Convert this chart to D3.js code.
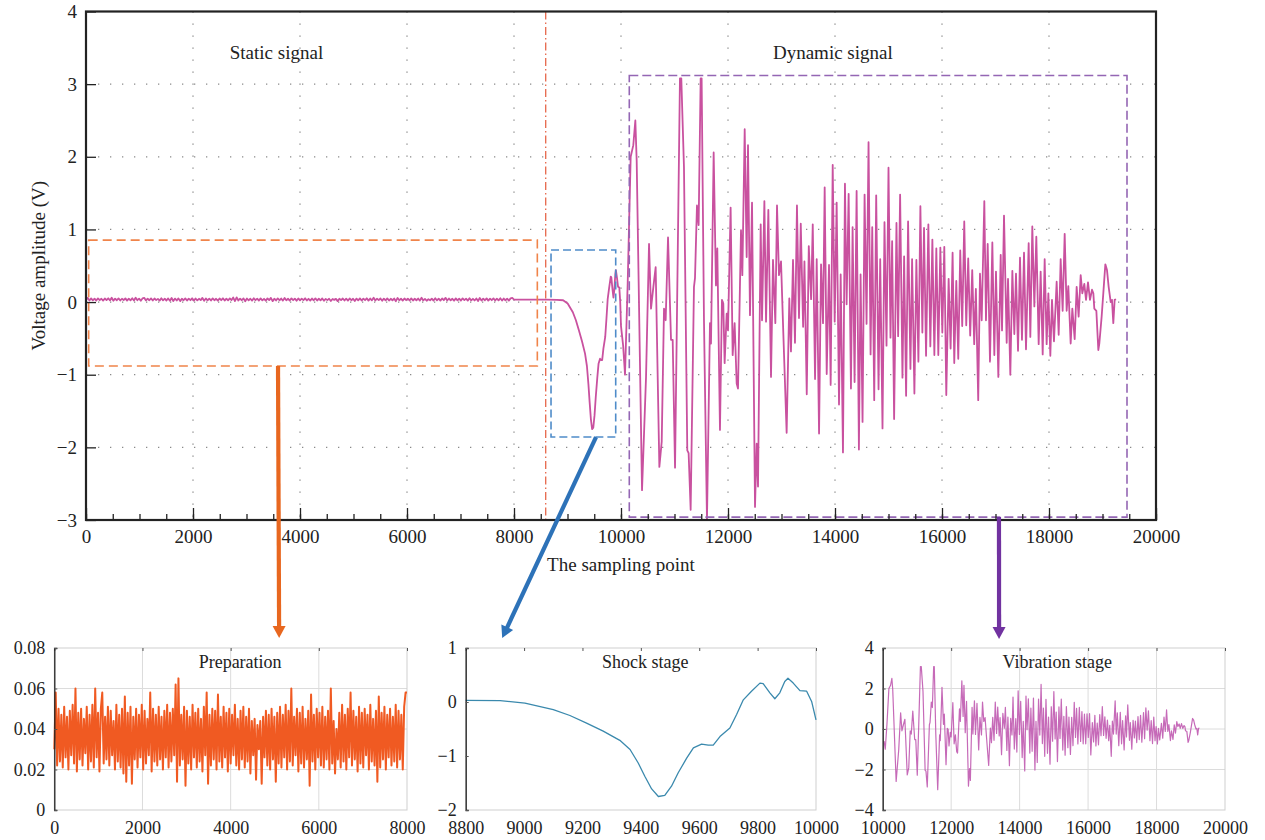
<!DOCTYPE html>
<html>
<head>
<meta charset="utf-8">
<script src="https://cdn.jsdelivr.net/npm/d3@7"></script>
<style>
  body { margin: 0; background: #fff; }
  svg { display: block; }
  text { font-family: "Liberation Serif", "DejaVu Serif", serif; fill: #222; }
</style>
</head>
<body>
<svg id="chart" width="1265" height="840"></svg>
<script>
// ── Data ───────────────────────────────────────────────────────────────────

// Static (preparation) stage, one value every prepStep sampling points, volts
const prepStep = 32;
const prepVolts = [
  0.030,0.058,0.022,0.050,0.024,0.047,0.021,0.051,0.026,0.046,
  0.020,0.049,0.027,0.052,0.023,0.060,0.019,0.048,0.025,0.050,
  0.022,0.045,0.028,0.051,0.020,0.047,0.024,0.052,0.021,0.060,
  0.026,0.048,0.019,0.050,0.058,0.023,0.046,0.025,0.051,0.022,
  0.049,0.027,0.044,0.020,0.052,0.024,0.047,0.021,0.050,0.018,
  0.056,0.014,0.048,0.022,0.051,0.013,0.046,0.025,0.050,0.021,
  0.047,0.026,0.052,0.020,0.049,0.023,0.045,0.027,0.058,0.019,
  0.050,0.024,0.047,0.022,0.051,0.025,0.046,0.020,0.049,0.026,
  0.052,0.021,0.048,0.024,0.050,0.027,0.062,0.014,0.065,0.022,
  0.047,0.025,0.051,0.012,0.049,0.023,0.046,0.020,0.052,0.026,
  0.048,0.021,0.050,0.024,0.045,0.019,0.051,0.027,0.058,0.013,
  0.047,0.022,0.050,0.025,0.049,0.020,0.057,0.024,0.046,0.021,
  0.051,0.026,0.048,0.019,0.050,0.023,0.047,0.027,0.052,0.022,
  0.045,0.020,0.049,0.025,0.051,0.021,0.046,0.024,0.050,0.018,
  0.044,0.027,0.045,0.015,0.042,0.030,0.044,0.013,0.046,0.026,
  0.049,0.022,0.047,0.020,0.050,0.025,0.046,0.014,0.048,0.023,
  0.051,0.021,0.047,0.026,0.052,0.020,0.049,0.024,0.060,0.022,
  0.046,0.027,0.050,0.019,0.048,0.023,0.051,0.021,0.045,0.025,
  0.049,0.012,0.057,0.024,0.047,0.020,0.050,0.026,0.048,0.022,
  0.051,0.021,0.046,0.025,0.049,0.020,0.060,0.023,0.044,0.018,
  0.040,0.025,0.048,0.021,0.052,0.024,0.047,0.020,0.050,0.026,
  0.058,0.022,0.049,0.025,0.046,0.019,0.051,0.023,0.048,0.021,
  0.050,0.027,0.047,0.020,0.052,0.024,0.045,0.022,0.049,0.014,
  0.056,0.021,0.048,0.025,0.051,0.020,0.047,0.026,0.050,0.022,
  0.046,0.024,0.052,0.021,0.049,0.025,0.047,0.020,0.051,0.058
];

// Flat stretch between the preparation window and the shock
const preShock = [[8000,0.035],[8300,0.034],[8600,0.034]];

// Shock stage [sampling point, V]
const shockPts = [
  [8800,0.03],[8918,0.025],[9003,-0.02],[9100,-0.14],[9157,-0.25],[9214,-0.39],
  [9271,-0.54],[9328,-0.71],[9363,-0.88],[9391,-1.13],[9414,-1.38],[9437,-1.61],
  [9460,-1.75],[9482,-1.73],[9505,-1.56],[9528,-1.31],[9557,-1.04],[9580,-0.85],
  [9608,-0.78],[9631,-0.80],[9648,-0.80],[9671,-0.64],[9705,-0.48],[9728,-0.23],
  [9751,0.04],[9779,0.20],[9808,0.35],[9819,0.34],[9842,0.17],[9859,0.06],
  [9876,0.17],[9893,0.38],[9904,0.44],[9922,0.35],[9945,0.21],[9968,0.20],
  [9985,0.01],[10000,-0.33]
];

// Vibration stage [sampling point, V]
const vibPts = [
  [10040,-0.6],[10075,-1.0],[10125,0.26],[10181,2.0],[10230,2.16],[10268,2.5],[10293,1.95],
  [10393,-2.59],[10468,-1.03],[10524,0.8],[10561,-0.09],[10605,0.21],[10648,0.48],[10717,-2.27],
  [10761,-1.92],[10804,-0.09],[10835,-0.25],[10879,0.89],[10935,-0.52],[10966,-0.52],[11010,-2.28],
  [11102,3.08],[11127,3.08],[11177,1.86],[11239,-2.04],[11264,-2.08],[11302,-2.86],[11364,0.21],
  [11383,0.33],[11420,1.33],[11451,1.06],[11489,3.08],[11507,3.08],[11551,-0.25],[11607,-3.0],
  [11663,-0.29],[11682,-0.57],[11732,2.06],[11775,0.23],[11800,0.74],[11850,-1.76],[11887,0.03],
  [11912,-0.02],[11937,-0.84],[11975,-0.16],[12000,-0.39],[12049,1.3],[12087,-0.73],[12124,-0.29],
  [12162,-1.12],[12187,-1.19],[12243,0.99],[12268,0.37],[12312,2.38],[12349,0.62],[12374,2.16],
  [12411,-0.18],[12449,1.37],[12505,-2.82],[12536,-1.95],[12561,-2.54],[12611,1.07],[12636,-0.25],
  [12680,1.39],[12711,-0.27],[12754,1.27],[12804,-1.03],[12841,0.58],[12885,-0.29],[12916,1.33],
  [12953,0.37],[12991,0.56],[13034,-0.43],[13096,-1.80],[13146,0.05],[13177,-0.68],[13215,0.58],
  [13252,-0.56],[13289,1.33],[13327,-0.22],
  [13360,1.08],[13404,-0.34],[13429,0.56],[13472,-1.27],[13510,0.77],[13553,0.04],[13584,1.07],
  [13627,-1.06],[13658,0.59],[13702,-1.81],[13739,0.52],[13776,-0.29],[13807,1.58],[13845,-0.99],
  [13888,0.51],[13919,-1.14],[13957,1.89],[13994,-0.27],[14031,1.37],[14075,-1.41],[14106,0.38],
  [14149,-2.07],[14186,1.63],[14217,-0.03],[14255,1.49],[14298,-1.19],[14329,1.03],[14366,-1.10],
  [14404,1.53],[14447,-2.03],[14478,0.38],[14515,-1.65],[14553,1.48],[14590,-0.30],[14627,2.20],
  [14665,-0.72],[14696,1.03],[14733,-1.35],[14770,1.47],[14814,-1.20],[14845,0.59],[14888,-1.74],
  [14925,1.10],[14963,-0.60],[15000,1.85],[15037,-0.49],[15068,0.84],[15105,-1.61],[15149,1.09],
  [15180,-0.47],[15217,1.48],[15261,-1.04],[15292,0.63],[15329,-1.29],[15366,1.11],[15410,-0.92],
  [15441,0.59],[15484,-1.26],[15521,0.58],[15559,-0.82],[15596,1.32],[15633,-0.42],[15664,1.02],
  [15702,-0.74],[15745,1.07],[15782,-0.61],[15820,0.86],[15857,-0.73],[15894,0.74],[15931,-0.73],
  [15969,0.75],[16006,-0.42],[16043,0.76],[16080,-1.28],[16124,0.32],[16161,-0.64],[16198,0.68],
  [16229,-0.84],[16267,0.29],[16304,-0.78],[16341,0.71],[16378,-0.33],[16416,1.11],[16453,-0.32],
  [16490,0.60],[16527,-0.46],[16565,0.44],[16602,-0.58],[16633,0.18],[16677,-1.35],
  [16710,0.39],[16742,-0.25],[16791,1.39],[16822,-0.25],[16854,0.80],[16897,-0.82],[16941,0.82],
  [16978,-0.73],[17009,0.42],[17053,-1.03],[17097,0.65],[17122,-0.39],[17159,1.19],[17209,-0.56],
  [17234,0.32],[17277,-1.0],[17315,0.43],[17352,-0.44],[17383,0.39],[17421,-0.67],[17458,0.61],
  [17495,-0.52],[17533,0.68],[17570,-0.65],[17620,0.81],[17651,-0.48],[17688,1.04],[17726,-0.06],
  [17763,0.90],[17807,-0.58],[17844,0.42],[17882,-0.72],[17919,0.59],[17956,-0.58],[17988,0.12],
  [18025,-0.74],[18056,0.03],[18093,-0.54],[18143,0.28],[18181,-0.45],[18218,0.59],[18255,-0.12],
  [18293,0.94],[18330,-0.12],[18361,0.22],[18405,-0.57],[18436,-0.09],[18480,-0.51],[18517,0.21],
  [18554,-0.20],[18592,0.37],[18623,0.12],[18660,0.25],[18692,0.03],[18729,0.27],[18766,0.03],
  [18804,0.17],[18829,0.12],[18847,-0.09],[18885,-0.12],[18922,-0.66],[18941,-0.57],[18984,-0.20],
  [19015,0.12],[19053,0.52],[19084,0.44],[19115,0.21],[19153,0.0],[19177,0.03],[19202,-0.29],
  [19227,0.03],[19252,0.04]
];

// Axis ticks
const mainXTicks = [0,2000,4000,6000,8000,10000,12000,14000,16000,18000,20000];
const mainYTicks = [-3,-2,-1,0,1,2,3,4];
const prepXTicks = [0,2000,4000,6000,8000];
const prepYTicks = [0,0.02,0.04,0.06,0.08];
const shockXTicks = [8800,9000,9200,9400,9600,9800,10000];
const shockYTicks = [-2,-1,0,1];
const vibXTicks = [10000,12000,14000,16000,18000,20000];
const vibYTicks = [-4,-2,0,2,4];

// Highlight windows on the main chart [x0, x1, y0, y1]
const prepWindow = [50, 8436, -0.88, 0.853];
const shockWindow = [8692, 9901, -1.858, 0.716];
const vibWindow = [10155, 19458, -2.96, 3.12];
const splitAt = 8593;

// ── Main chart ─────────────────────────────────────────────────────────────
const svg = d3.select('#chart');
const M = { left: 86, right: 1156, top: 11.5, bottom: 520 };
const x = d3.scaleLinear().domain([0, 20000]).range([M.left, M.right]);
const y = d3.scaleLinear().domain([-3, 4]).range([M.bottom, M.top]);

const staticPts = prepVolts.map((v, i) => [i * prepStep, v]);
const fullSignal = staticPts.concat(preShock, shockPts, vibPts);

const main = svg.append('g');

// dotted grid
main.append('g').selectAll('line').data(mainXTicks.slice(1, -1)).join('line')
  .attr('x1', d => x(d)).attr('x2', d => x(d)).attr('y1', M.top).attr('y2', M.bottom)
  .attr('stroke', '#8a8a8a').attr('stroke-width', 1.3).attr('stroke-dasharray', '1.3 10.7');
main.append('g').selectAll('line').data(mainYTicks.slice(1, -1)).join('line')
  .attr('x1', M.left).attr('x2', M.right).attr('y1', d => y(d)).attr('y2', d => y(d))
  .attr('stroke', '#8a8a8a').attr('stroke-width', 1.3).attr('stroke-dasharray', '1.3 10.7');

// signal
const line = d3.line().x(d => x(d[0])).y(d => y(d[1]));
main.append('path').datum(fullSignal).attr('d', line)
  .attr('fill', 'none').attr('stroke', '#c9519f').attr('stroke-width', 1.8)
  .attr('stroke-linejoin', 'round');

// windows
function windowRect(w, color, dash) {
  main.append('rect')
    .attr('x', x(w[0])).attr('y', y(w[3]))
    .attr('width', x(w[1]) - x(w[0])).attr('height', y(w[2]) - y(w[3]))
    .attr('fill', 'none').attr('stroke', color).attr('stroke-width', 1.6)
    .attr('stroke-dasharray', dash);
}
windowRect(prepWindow, '#f0844a', '9 5');
windowRect(shockWindow, '#4f8cc9', '8 4');
windowRect(vibWindow, '#9466b4', '9 4');

main.append('line')
  .attr('x1', x(splitAt)).attr('x2', x(splitAt)).attr('y1', M.top).attr('y2', M.bottom)
  .attr('stroke', '#e45a3c').attr('stroke-width', 1.2).attr('stroke-dasharray', '8 3 1.5 3');

// axes
const ax = main.append('g').attr('transform', `translate(0,${M.bottom})`);
ax.call(d3.axisBottom(x).tickValues(d3.range(0, 20001, 500)).tickSize(-6).tickFormat(''));
ax.call(g => g.select('.domain').remove());
const ax2 = main.append('g').attr('transform', `translate(0,${M.bottom})`);
ax2.call(d3.axisBottom(x).tickValues(mainXTicks).tickSize(-12).tickPadding(10).tickFormat(d3.format('d')));
ax2.call(g => g.select('.domain').remove());
const ay = main.append('g').attr('transform', `translate(${M.left},0)`);
ay.call(d3.axisLeft(y).tickValues(mainYTicks).tickSize(-10).tickPadding(9).tickFormat(d3.format('d')));
ay.call(g => g.select('.domain').remove());
main.selectAll('.tick line').attr('stroke', '#222').attr('stroke-width', 1.3);
main.selectAll('.tick text').attr('font-size', 19).attr('font-family', '"Liberation Serif", serif').attr('fill', '#222');

main.append('rect')
  .attr('x', M.left).attr('y', M.top).attr('width', M.right - M.left).attr('height', M.bottom - M.top)
  .attr('fill', 'none').attr('stroke', '#222').attr('stroke-width', 2.2);

main.append('text').attr('x', x(3560)).attr('y', 59).attr('text-anchor', 'middle')
  .attr('font-size', 19).text('Static signal');
main.append('text').attr('x', x(13960)).attr('y', 59).attr('text-anchor', 'middle')
  .attr('font-size', 19).text('Dynamic signal');
main.append('text').attr('x', x(10000)).attr('y', 571).attr('text-anchor', 'middle')
  .attr('font-size', 19).text('The sampling point');
main.append('text').attr('transform', `translate(45,${y(0.5)}) rotate(-90)`)
  .attr('text-anchor', 'middle').attr('font-size', 19).text('Voltage amplitude (V)');

// ── Sub panels ─────────────────────────────────────────────────────────────
const PT = 648, PB = 810;
function panel(cfg) {
  const px = d3.scaleLinear().domain(cfg.xDomain).range([cfg.left, cfg.right]);
  const py = d3.scaleLinear().domain(cfg.yDomain).range([PB, PT]);
  const g = svg.append('g');
  if (cfg.grid) {
    g.append('g').selectAll('line').data(cfg.xTicks.slice(1, -1)).join('line')
      .attr('x1', d => px(d)).attr('x2', d => px(d)).attr('y1', PT).attr('y2', PB)
      .attr('stroke', '#dcdcdc').attr('stroke-width', 1);
    g.append('g').selectAll('line').data(cfg.yTicks.slice(1, -1)).join('line')
      .attr('x1', cfg.left).attr('x2', cfg.right).attr('y1', d => py(d)).attr('y2', d => py(d))
      .attr('stroke', '#dcdcdc').attr('stroke-width', 1);
  }
  // light frame
  g.append('rect').attr('x', cfg.left).attr('y', PT)
    .attr('width', cfg.right - cfg.left).attr('height', PB - PT)
    .attr('fill', 'none').attr('stroke', '#cfcfcf').attr('stroke-width', 1);

  g.append('path').datum(cfg.data)
    .attr('d', d3.line().x(d => px(d[0])).y(d => py(d[1])))
    .attr('fill', 'none').attr('stroke', cfg.color).attr('stroke-width', cfg.width)
    .attr('stroke-opacity', cfg.opacity || 1).attr('stroke-linejoin', 'round');

  const bx = g.append('g').attr('transform', `translate(0,${PB})`)
    .call(d3.axisBottom(px).tickValues(cfg.xTicks).tickSize(0).tickPadding(11).tickFormat(d3.format('d')));
  bx.select('.domain').remove();
  const top = g.append('g').attr('transform', `translate(0,${PT})`)
    .call(d3.axisTop(px).tickValues(cfg.xTicks).tickSize(-3).tickFormat(''));
  top.select('.domain').remove();
  const ly = g.append('g').attr('transform', `translate(${cfg.left},0)`)
    .call(d3.axisLeft(py).tickValues(cfg.yTicks).tickSize(-3).tickPadding(9).tickFormat(cfg.yFormat));
  ly.select('.domain').attr('stroke', '#222').attr('stroke-width', 1.3);
  g.selectAll('.tick line').attr('stroke', '#555');
  g.selectAll('.tick text').attr('font-size', 18).attr('font-family', '"Liberation Serif", serif').attr('fill', '#222');

  g.append('text').attr('x', px(cfg.titleAt)).attr('y', 668).attr('text-anchor', 'middle')
    .attr('font-size', 18).text(cfg.title);
  return px;
}

const prepX = panel({
  left: 54.3, right: 407, xDomain: [0, 8000], yDomain: [0, 0.08],
  xTicks: prepXTicks, yTicks: prepYTicks, grid: true,
  yFormat: d => d === 0 ? '0' : d.toFixed(2),
  data: staticPts.concat([[8000, 0.058]]), color: '#f05a22', width: 2,
  title: 'Preparation', titleAt: 4215
});
const shockX = panel({
  left: 465.7, right: 816, xDomain: [8800, 10000], yDomain: [-2, 1],
  xTicks: shockXTicks, yTicks: shockYTicks, grid: false,
  yFormat: d3.format('d'),
  data: shockPts, color: '#3a89ad', width: 1.3,
  title: 'Shock stage', titleAt: 9415
});
const vibX = panel({
  left: 882.7, right: 1225, xDomain: [10000, 20000], yDomain: [-4, 4],
  xTicks: vibXTicks, yTicks: vibYTicks, grid: true,
  yFormat: d3.format('d'),
  data: vibPts, color: '#c05ab0', width: 1.2, opacity: 0.9,
  title: 'Vibration stage', titleAt: 15100
});

// ── Arrows from windows to panels ──────────────────────────────────────────
const arrows = [
  { from: [3589, prepWindow[2]], to: [prepX(5100), 638], color: '#e8671f' },
  { from: [9533, shockWindow[2]], to: [shockX(8925), 638], color: '#2d72b8' },
  { from: [17065, vibWindow[2]], to: [vibX(13400), 639], color: '#7132a0' }
];
arrows.forEach(a => {
  const x0 = x(a.from[0]), y0 = y(a.from[1]);
  const [x1, y1] = a.to;
  const len = Math.hypot(x1 - x0, y1 - y0);
  const ux = (x1 - x0) / len, uy = (y1 - y0) / len;
  const hl = 12, hw = 6.5;
  const bxp = x1 - ux * hl, byp = y1 - uy * hl;
  svg.append('line').attr('x1', x0).attr('y1', y0).attr('x2', bxp + ux).attr('y2', byp + uy)
    .attr('stroke', a.color).attr('stroke-width', 4.2);
  svg.append('path')
    .attr('d', `M${x1},${y1}L${bxp - uy * hw},${byp + ux * hw}L${bxp + uy * hw},${byp - ux * hw}Z`)
    .attr('fill', a.color);
});
</script>
</body>
</html>
